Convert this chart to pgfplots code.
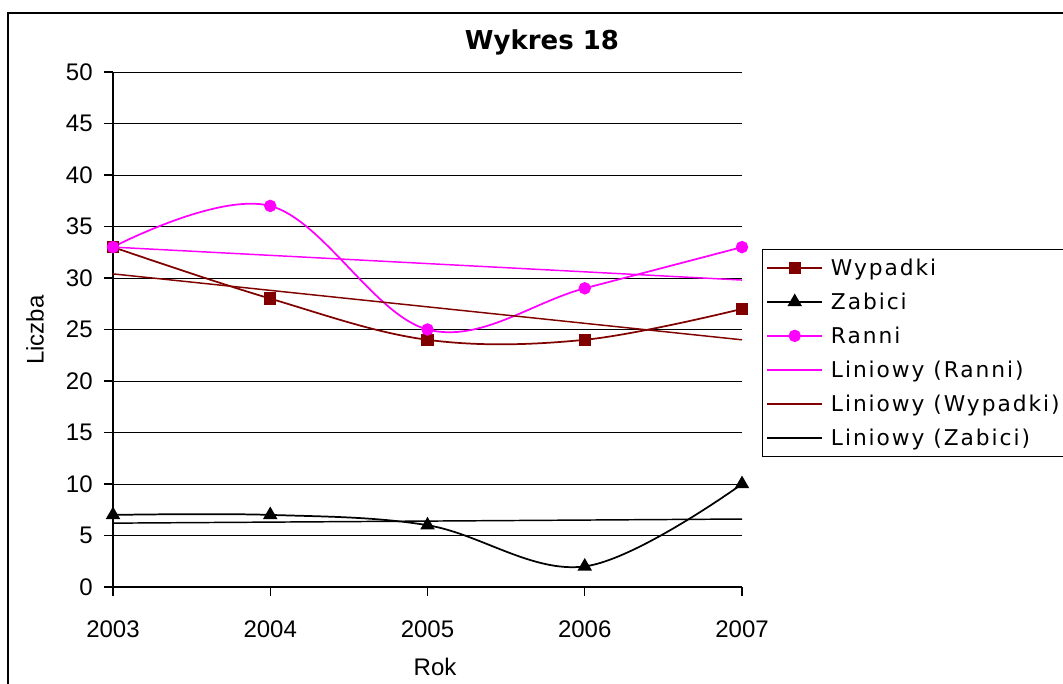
\documentclass[border=0pt]{standalone}
\usepackage{fontspec}
\setmainfont{Liberation Sans}
\newfontfamily\dejavu[LetterSpace=9]{DejaVu Sans}
\newfontfamily\dejavub{DejaVu Sans}
\usepackage{pgfplots}
\pgfplotsset{compat=1.18}
\definecolor{wyp}{RGB}{128,0,0}
\definecolor{ran}{RGB}{255,0,255}
\begin{document}
\begin{tikzpicture}
\useasboundingbox (0pt,0pt) rectangle (797.25pt,-513pt);
\draw[line width=1.1pt] (6pt,-513pt) -- (6pt,-9.75pt) -- (797.25pt,-9.75pt);
\begin{axis}[
  at={(84.75pt,-440.25pt)}, anchor=south west,
  scale only axis, width=471.75pt, height=386.25pt,
  xmin=2003, xmax=2007, ymin=0, ymax=50,
  axis lines=left, axis line style={-, line width=0.8pt},
  xtick={2003,2004,2005,2006,2007}, ytick={0,5,...,50},
  ymajorgrids, grid style={black, line width=0.7pt},
  tick style={black, line width=0.8pt}, tick align=outside,
  major tick length=6.75pt,
  /pgf/number format/assume math mode=true,
  /pgf/number format/1000 sep={},
  tick label style={font=\fontsize{18}{21}\selectfont},
  xticklabel style={yshift=-15pt},
  yticklabel style={xshift=-5pt},
  label style={font=\fontsize{18}{21}\selectfont},
  xlabel={Rok}, ylabel={Liczba},
  xlabel style={at={(axis description cs:0.512,-0.155)}, anchor=center},
  ylabel style={at={(axis description cs:-0.124,0.499)}, anchor=center, rotate=0},
  title={\dejavub\bfseries Wykres 18},
  title style={at={(axis description cs:0.682,1.041)}, anchor=center, font=\fontsize{19.5}{22}\selectfont},
  clip=false,
  legend style={at={(axis description cs:1.0318,0.6563)}, anchor=north west,
    draw=black, line width=0.8pt, font=\dejavu\fontsize{16.3}{19}\selectfont,
    inner xsep=3pt, inner ysep=1pt, row sep=0pt,
    nodes={inner ysep=0pt, text height=18.3pt, text depth=7.2pt, inner xsep=3pt},
    /tikz/every odd column/.append style={column sep=3pt}},
  legend cell align=left,
  legend image code/.code={
    \draw[mark repeat=2,mark phase=2,#1] plot coordinates {(0pt,0pt) (20.5pt,0pt) (41pt,0pt)};},
]
\addplot[wyp, line width=1.3pt, smooth, tension=0.6, mark=square*, mark size=4pt, mark options={solid, fill=wyp}]
  coordinates {(2003,33) (2004,28) (2005,24) (2006,24) (2007,27)};
\addlegendentry{Wypadki}
\addplot[black, line width=1.3pt, smooth, tension=0.6, mark=triangle*, mark size=5pt, mark options={solid, fill=black}]
  coordinates {(2003,7) (2004,7) (2005,6) (2006,2) (2007,10)};
\addlegendentry{Zabici}
\addplot[ran, line width=1.3pt, smooth, tension=0.6, mark=*, mark size=4pt, mark options={solid, fill=ran}]
  coordinates {(2003,33) (2004,37) (2005,25) (2006,29) (2007,33)};
\addlegendentry{Ranni}
\addplot[ran, line width=1.1pt] coordinates {(2003,33.0) (2007,29.8)};
\addlegendentry{Liniowy (Ranni)}
\addplot[wyp, line width=1.1pt] coordinates {(2003,30.4) (2007,24.0)};
\addlegendentry{Liniowy (Wypadki)}
\addplot[black, line width=1.1pt] coordinates {(2003,6.2) (2007,6.6)};
\addlegendentry{Liniowy (Zabici)}
\end{axis}
\end{tikzpicture}
\end{document}
